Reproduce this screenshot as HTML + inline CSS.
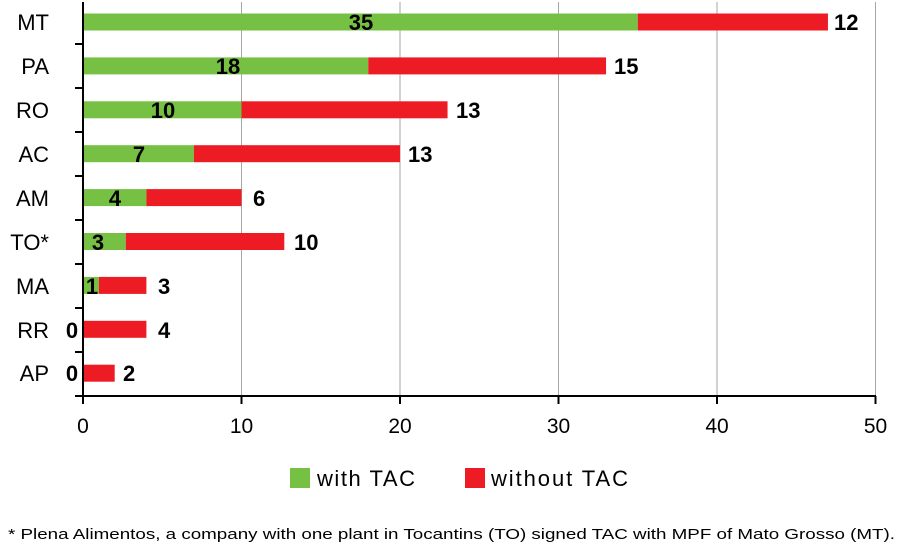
<!DOCTYPE html>
<html><head><style>
body{margin:0;background:#fff;}
svg text{font-family:"Liberation Sans",sans-serif;}
</style></head><body>
<svg width="906" height="549" xmlns="http://www.w3.org/2000/svg">
<g stroke="#a6a6a6" stroke-width="1">
<line x1="241.5" y1="2" x2="241.5" y2="396"/>
<line x1="400" y1="2" x2="400" y2="396"/>
<line x1="558.5" y1="2" x2="558.5" y2="396"/>
<line x1="717" y1="2" x2="717" y2="396"/>
<line x1="875.5" y1="2" x2="875.5" y2="396"/>
</g>
<g fill="#76c043">
<rect x="83" y="13.5" width="554.75" height="17"/>
<rect x="83" y="57.4" width="285.3" height="17"/>
<rect x="83" y="101.3" width="158.5" height="17"/>
<rect x="83" y="145.2" width="110.95" height="17"/>
<rect x="83" y="189.1" width="63.4" height="17"/>
<rect x="83" y="233" width="42.8" height="17"/>
<rect x="83" y="276.9" width="15.85" height="17"/>
</g>
<g fill="#ed1c24">
<rect x="637.75" y="13.5" width="190.2" height="17"/>
<rect x="368.3" y="57.4" width="237.75" height="17"/>
<rect x="241.5" y="101.3" width="206.05" height="17"/>
<rect x="193.95" y="145.2" width="206.05" height="17"/>
<rect x="146.4" y="189.1" width="95.1" height="17"/>
<rect x="125.8" y="233" width="158.5" height="17"/>
<rect x="98.85" y="276.9" width="47.55" height="17"/>
<rect x="83" y="320.8" width="63.4" height="17"/>
<rect x="83" y="364.7" width="31.7" height="17"/>
</g>
<g font-size="22" text-anchor="end">
<text x="49" y="30">MT</text><text x="49" y="74">PA</text><text x="49" y="118">RO</text>
<text x="49" y="162">AC</text><text x="49" y="206">AM</text><text x="49" y="250">TO*</text>
<text x="49" y="294">MA</text><text x="49" y="338">RR</text><text x="49" y="381">AP</text>
</g>
<g font-size="22" font-weight="bold" text-anchor="middle">
<text x="361" y="30">35</text><text x="228" y="74">18</text><text x="163" y="118">10</text>
<text x="139" y="162">7</text><text x="115" y="206">4</text><text x="98" y="250">3</text>
<text x="92" y="294">1</text><text x="72" y="338">0</text><text x="72" y="381">0</text>
</g>
<g font-size="22" font-weight="bold">
<text x="834" y="30">12</text><text x="614" y="74">15</text><text x="456" y="118">13</text>
<text x="408" y="162">13</text><text x="253" y="206">6</text><text x="294" y="250">10</text>
<text x="158" y="294">3</text><text x="158" y="338">4</text><text x="123" y="381">2</text>
</g>
<g stroke="#000" stroke-width="2">
<line x1="83" y1="2" x2="83" y2="396"/>
<line x1="75" y1="396" x2="876" y2="396"/>
<line x1="83" y1="396" x2="83" y2="404"/>
<line x1="241.5" y1="396" x2="241.5" y2="404"/>
<line x1="400" y1="396" x2="400" y2="404"/>
<line x1="558.5" y1="396" x2="558.5" y2="404"/>
<line x1="717" y1="396" x2="717" y2="404"/>
<line x1="875.5" y1="396" x2="875.5" y2="404"/>
<line x1="75" y1="44" x2="83" y2="44"/><line x1="75" y1="88" x2="83" y2="88"/>
<line x1="75" y1="132" x2="83" y2="132"/><line x1="75" y1="176" x2="83" y2="176"/>
<line x1="75" y1="220" x2="83" y2="220"/><line x1="75" y1="264" x2="83" y2="264"/>
<line x1="75" y1="308" x2="83" y2="308"/><line x1="75" y1="352" x2="83" y2="352"/>
</g>
<g font-size="21" text-anchor="middle" fill="#000">
<text x="83" y="433">0</text><text x="241.5" y="433">10</text><text x="400" y="433">20</text><text x="558.5" y="433">30</text><text x="717" y="433">40</text><text x="875.5" y="433">50</text>
</g>
<rect x="290" y="468" width="20" height="20" fill="#76c043"/>
<text x="317" y="486" font-size="22" textLength="98">with TAC</text>
<rect x="465" y="468" width="20" height="20" fill="#ed1c24"/>
<text x="491" y="486" font-size="22" textLength="137">without TAC</text>
<text x="8" y="539" font-size="15" textLength="887" lengthAdjust="spacingAndGlyphs">* Plena Alimentos, a company with one plant in Tocantins (TO) signed TAC with MPF of Mato Grosso (MT).</text>
</svg>
</body></html>
